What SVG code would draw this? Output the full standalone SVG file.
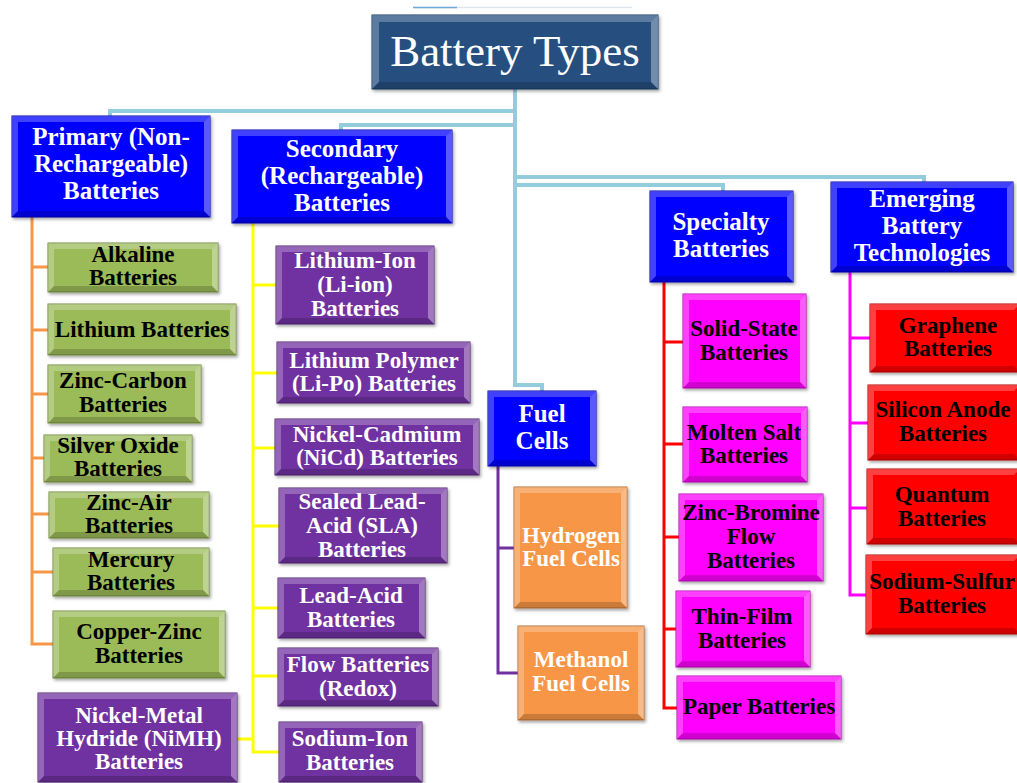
<svg xmlns="http://www.w3.org/2000/svg" width="1017" height="783" viewBox="0 0 1017 783">
<defs>
<filter id="sh" x="-10%" y="-10%" width="130%" height="130%"><feDropShadow dx="1.5" dy="2" stdDeviation="1.5" flood-color="#000" flood-opacity="0.35"/></filter>
<style>
.n rect{stroke-width:1;filter:url(#sh)}
.root rect{fill:#254F80;stroke:#1A3A60}
.blue rect{fill:#0000FF;stroke:#0000B0}
.green rect{fill:#9BBB59;stroke:#71893F}
.purple rect{fill:#7030A0;stroke:#4E2272}
.orange rect{fill:#F79646;stroke:#B66D31}
.mag rect{fill:#FF00FF;stroke:#B800B8}
.red rect{fill:#FF0000;stroke:#B80000}
.lt{fill:#FFFFFF;opacity:.25}
.rt{fill:#FFFFFF;opacity:.35}
.bm{fill:#000000;opacity:.18}
text{font-family:"Liberation Serif","Times New Roman",serif;font-weight:bold;font-size:23px;text-anchor:middle}
.hd text{font-size:25px}
.w text{fill:#FFFFFF}
.k text{fill:#000000}
.root text{font-weight:normal;font-size:45px}
.cb{fill:none;stroke:#93CDDD;stroke-width:4}
.c{fill:none;stroke-width:3}
</style>
</defs>
<rect width="1017" height="783" fill="#FFFFFF"/>
<line x1="413" y1="7.5" x2="632" y2="7.5" stroke="#DDE6EE" stroke-width="1.5"/>
<line x1="413" y1="7.5" x2="457" y2="7.5" stroke="#6FA8DC" stroke-width="1.5"/>

<g id="connectors">
<path class="cb" d="M515 89V385H542V391M515 111H110V116M515 125H341V130M515 177H924V182M515 185H723V191"/>
<path class="c" stroke="#F79646" d="M32 217V644H53M32 267H48M32 330H48M32 394H48M32 458H44M32 514H49M32 572H53"/>
<path class="c" stroke="#FFFF00" d="M253 223V752H279M253 285H276M253 373H277M253 448H275M253 526H279M253 608H278M253 676H278M253 739H237"/>
<path class="c" stroke="#7030A0" d="M498 466V673H518M498 548H514"/>
<path class="c" stroke="#FF0000" d="M664 282V708H677M664 342H683M664 444H683M664 537H679M664 629H676"/>
<path class="c" stroke="#FF00FF" d="M850 272V595H866M850 338H870M850 423H868M850 508H867"/>
</g>

<g id="n-root" class="n root w"><rect x="372" y="15" width="286" height="74"/><path class="lt" d="M372 15h286l-7 7h-272v60l-7 7z"/><path class="rt" d="M658 15v74l-7-7v-60z"/><path class="bm" d="M372 89h286l-7-7h-272z"/><text x="515" y="66">Battery Types</text></g>

<g id="n-primary" class="n blue w hd"><rect x="12" y="116" width="198" height="101"/><path class="lt" d="M12 116h198l-6 6h-186v89l-6 6z"/><path class="rt" d="M210 116v101l-6-6v-89z"/><path class="bm" d="M12 217h198l-6-6h-186z"/><text x="111"><tspan x="111" y="145">Primary (Non-</tspan><tspan x="111" y="172">Rechargeable)</tspan><tspan x="111" y="199">Batteries</tspan></text></g>
<g id="n-secondary" class="n blue w hd"><rect x="232" y="130" width="220" height="93"/><path class="lt" d="M232 130h220l-6 6h-208v81l-6 6z"/><path class="rt" d="M452 130v93l-6-6v-81z"/><path class="bm" d="M232 223h220l-6-6h-208z"/><text x="342"><tspan x="342" y="157">Secondary</tspan><tspan x="342" y="184">(Rechargeable)</tspan><tspan x="342" y="211">Batteries</tspan></text></g>
<g id="n-fuel" class="n blue w hd"><rect x="488" y="391" width="108" height="75"/><path class="lt" d="M488 391h108l-6 6h-96v63l-6 6z"/><path class="rt" d="M596 391v75l-6-6v-63z"/><path class="bm" d="M488 466h108l-6-6h-96z"/><text x="542"><tspan x="542" y="422">Fuel</tspan><tspan x="542" y="449">Cells</tspan></text></g>
<g id="n-specialty" class="n blue w hd"><rect x="650" y="191" width="143" height="91"/><path class="lt" d="M650 191h143l-6 6h-131v79l-6 6z"/><path class="rt" d="M793 191v91l-6-6v-79z"/><path class="bm" d="M650 282h143l-6-6h-131z"/><text x="721"><tspan x="721" y="230">Specialty</tspan><tspan x="721" y="257">Batteries</tspan></text></g>
<g id="n-emerging" class="n blue w hd"><rect x="831" y="182" width="182" height="90"/><path class="lt" d="M831 182h182l-6 6h-170v78l-6 6z"/><path class="rt" d="M1013 182v90l-6-6v-78z"/><path class="bm" d="M831 272h182l-6-6h-170z"/><text x="922"><tspan x="922" y="207">Emerging</tspan><tspan x="922" y="234">Battery</tspan><tspan x="922" y="261">Technologies</tspan></text></g>

<g id="n-alkaline" class="n green k"><rect x="48" y="243" width="170" height="49"/><path class="lt" d="M48 243h170l-6 6h-158v37l-6 6z"/><path class="rt" d="M218 243v49l-6-6v-37z"/><path class="bm" d="M48 292h170l-6-6h-158z"/><text x="133"><tspan x="133" y="262">Alkaline</tspan><tspan x="133" y="285">Batteries</tspan></text></g>
<g id="n-lithium" class="n green k"><rect x="48" y="304" width="188" height="51"/><path class="lt" d="M48 304h188l-6 6h-176v39l-6 6z"/><path class="rt" d="M236 304v51l-6-6v-39z"/><path class="bm" d="M48 355h188l-6-6h-176z"/><text x="142" y="337">Lithium Batteries</text></g>
<g id="n-zinccarbon" class="n green k"><rect x="48" y="365" width="153" height="58"/><path class="lt" d="M48 365h153l-6 6h-141v46l-6 6z"/><path class="rt" d="M201 365v58l-6-6v-46z"/><path class="bm" d="M48 423h153l-6-6h-141z"/><text x="123"><tspan x="123" y="388">Zinc-Carbon</tspan><tspan x="123" y="412">Batteries</tspan></text></g>
<g id="n-silveroxide" class="n green k"><rect x="44" y="435" width="148" height="47"/><path class="lt" d="M44 435h148l-6 6h-136v35l-6 6z"/><path class="rt" d="M192 435v47l-6-6v-35z"/><path class="bm" d="M44 482h148l-6-6h-136z"/><text x="118"><tspan x="118" y="453">Silver Oxide</tspan><tspan x="118" y="476">Batteries</tspan></text></g>
<g id="n-zincair" class="n green k"><rect x="49" y="492" width="160" height="46"/><path class="lt" d="M49 492h160l-6 6h-148v34l-6 6z"/><path class="rt" d="M209 492v46l-6-6v-34z"/><path class="bm" d="M49 538h160l-6-6h-148z"/><text x="129"><tspan x="129" y="510">Zinc-Air</tspan><tspan x="129" y="533">Batteries</tspan></text></g>
<g id="n-mercury" class="n green k"><rect x="53" y="548" width="156" height="48"/><path class="lt" d="M53 548h156l-6 6h-144v36l-6 6z"/><path class="rt" d="M209 548v48l-6-6v-36z"/><path class="bm" d="M53 596h156l-6-6h-144z"/><text x="131"><tspan x="131" y="567">Mercury</tspan><tspan x="131" y="590">Batteries</tspan></text></g>
<g id="n-copperzinc" class="n green k"><rect x="53" y="611" width="172" height="67"/><path class="lt" d="M53 611h172l-6 6h-160v55l-6 6z"/><path class="rt" d="M225 611v67l-6-6v-55z"/><path class="bm" d="M53 678h172l-6-6h-160z"/><text x="139"><tspan x="139" y="639">Copper-Zinc</tspan><tspan x="139" y="663">Batteries</tspan></text></g>

<g id="n-liion" class="n purple w"><rect x="276" y="246" width="158" height="78"/><path class="lt" d="M276 246h158l-6 6h-146v66l-6 6z"/><path class="rt" d="M434 246v78l-6-6v-66z"/><path class="bm" d="M276 324h158l-6-6h-146z"/><text x="355"><tspan x="355" y="268">Lithium-Ion</tspan><tspan x="355" y="292">(Li-ion)</tspan><tspan x="355" y="316">Batteries</tspan></text></g>
<g id="n-lipo" class="n purple w"><rect x="277" y="342" width="193" height="61"/><path class="lt" d="M277 342h193l-6 6h-181v49l-6 6z"/><path class="rt" d="M470 342v61l-6-6v-49z"/><path class="bm" d="M277 403h193l-6-6h-181z"/><text x="374"><tspan x="374" y="368">Lithium Polymer</tspan><tspan x="374" y="391">(Li-Po) Batteries</tspan></text></g>
<g id="n-nicd" class="n purple w"><rect x="275" y="419" width="204" height="56"/><path class="lt" d="M275 419h204l-6 6h-192v44l-6 6z"/><path class="rt" d="M479 419v56l-6-6v-44z"/><path class="bm" d="M275 475h204l-6-6h-192z"/><text x="377"><tspan x="377" y="442">Nickel-Cadmium</tspan><tspan x="377" y="465">(NiCd) Batteries</tspan></text></g>
<g id="n-sla" class="n purple w"><rect x="279" y="488" width="168" height="75"/><path class="lt" d="M279 488h168l-6 6h-156v63l-6 6z"/><path class="rt" d="M447 488v75l-6-6v-63z"/><path class="bm" d="M279 563h168l-6-6h-156z"/><text x="362"><tspan x="362" y="509">Sealed Lead-</tspan><tspan x="362" y="533">Acid (SLA)</tspan><tspan x="362" y="557">Batteries</tspan></text></g>
<g id="n-leadacid" class="n purple w"><rect x="278" y="578" width="147" height="60"/><path class="lt" d="M278 578h147l-6 6h-135v48l-6 6z"/><path class="rt" d="M425 578v60l-6-6v-48z"/><path class="bm" d="M278 638h147l-6-6h-135z"/><text x="351"><tspan x="351" y="603">Lead-Acid</tspan><tspan x="351" y="627">Batteries</tspan></text></g>
<g id="n-flow" class="n purple w"><rect x="278" y="648" width="160" height="58"/><path class="lt" d="M278 648h160l-6 6h-148v46l-6 6z"/><path class="rt" d="M438 648v58l-6-6v-46z"/><path class="bm" d="M278 706h160l-6-6h-148z"/><text x="358"><tspan x="358" y="672">Flow Batteries</tspan><tspan x="358" y="696">(Redox)</tspan></text></g>
<g id="n-sodiumion" class="n purple w"><rect x="279" y="722" width="143" height="60"/><path class="lt" d="M279 722h143l-6 6h-131v48l-6 6z"/><path class="rt" d="M422 722v60l-6-6v-48z"/><path class="bm" d="M279 782h143l-6-6h-131z"/><text x="350"><tspan x="350" y="746">Sodium-Ion</tspan><tspan x="350" y="770">Batteries</tspan></text></g>
<g id="n-nimh" class="n purple w"><rect x="38" y="693" width="199" height="89"/><path class="lt" d="M38 693h199l-6 6h-187v77l-6 6z"/><path class="rt" d="M237 693v89l-6-6v-77z"/><path class="bm" d="M38 782h199l-6-6h-187z"/><text x="139"><tspan x="139" y="723">Nickel-Metal</tspan><tspan x="139" y="746">Hydride (NiMH)</tspan><tspan x="139" y="769">Batteries</tspan></text></g>

<g id="n-hydrogen" class="n orange w"><rect x="514" y="487" width="113" height="121"/><path class="lt" d="M514 487h113l-6 6h-101v109l-6 6z"/><path class="rt" d="M627 487v121l-6-6v-109z"/><path class="bm" d="M514 608h113l-6-6h-101z"/><text x="571"><tspan x="571" y="543">Hydrogen</tspan><tspan x="571" y="566">Fuel Cells</tspan></text></g>
<g id="n-methanol" class="n orange w"><rect x="518" y="626" width="126" height="94"/><path class="lt" d="M518 626h126l-6 6h-114v82l-6 6z"/><path class="rt" d="M644 626v94l-6-6v-82z"/><path class="bm" d="M518 720h126l-6-6h-114z"/><text x="581"><tspan x="581" y="667">Methanol</tspan><tspan x="581" y="691">Fuel Cells</tspan></text></g>

<g id="n-solidstate" class="n mag k"><rect x="683" y="294" width="123" height="94"/><path class="lt" d="M683 294h123l-6 6h-111v82l-6 6z"/><path class="rt" d="M806 294v94l-6-6v-82z"/><path class="bm" d="M683 388h123l-6-6h-111z"/><text x="744"><tspan x="744" y="336">Solid-State</tspan><tspan x="744" y="360">Batteries</tspan></text></g>
<g id="n-moltensalt" class="n mag k"><rect x="683" y="407" width="124" height="75"/><path class="lt" d="M683 407h124l-6 6h-112v63l-6 6z"/><path class="rt" d="M807 407v75l-6-6v-63z"/><path class="bm" d="M683 482h124l-6-6h-112z"/><text x="744"><tspan x="744" y="440">Molten Salt</tspan><tspan x="744" y="463">Batteries</tspan></text></g>
<g id="n-zincbromine" class="n mag k"><rect x="679" y="494" width="144" height="87"/><path class="lt" d="M679 494h144l-6 6h-132v75l-6 6z"/><path class="rt" d="M823 494v87l-6-6v-75z"/><path class="bm" d="M679 581h144l-6-6h-132z"/><text x="751"><tspan x="751" y="520">Zinc-Bromine</tspan><tspan x="751" y="544">Flow</tspan><tspan x="751" y="568">Batteries</tspan></text></g>
<g id="n-thinfilm" class="n mag k"><rect x="676" y="591" width="134" height="76"/><path class="lt" d="M676 591h134l-6 6h-122v64l-6 6z"/><path class="rt" d="M810 591v76l-6-6v-64z"/><path class="bm" d="M676 667h134l-6-6h-122z"/><text x="742"><tspan x="742" y="624">Thin-Film</tspan><tspan x="742" y="648">Batteries</tspan></text></g>
<g id="n-paper" class="n mag k"><rect x="677" y="676" width="164" height="63"/><path class="lt" d="M677 676h164l-6 6h-152v51l-6 6z"/><path class="rt" d="M841 676v63l-6-6v-51z"/><path class="bm" d="M677 739h164l-6-6h-152z"/><text x="759" y="714">Paper Batteries</text></g>

<g id="n-graphene" class="n red k"><rect x="870" y="304" width="150" height="68"/><path class="lt" d="M870 304h150l-6 6h-138v56l-6 6z"/><path class="bm" d="M870 372h150l-6-6h-138z"/><text x="948"><tspan x="948" y="333">Graphene</tspan><tspan x="948" y="356">Batteries</tspan></text></g>
<g id="n-siliconanode" class="n red k"><rect x="868" y="385" width="152" height="75"/><path class="lt" d="M868 385h152l-6 6h-140v63l-6 6z"/><path class="bm" d="M868 460h152l-6-6h-140z"/><text x="943"><tspan x="943" y="417">Silicon Anode</tspan><tspan x="943" y="441">Batteries</tspan></text></g>
<g id="n-quantum" class="n red k"><rect x="867" y="469" width="153" height="75"/><path class="lt" d="M867 469h153l-6 6h-141v63l-6 6z"/><path class="bm" d="M867 544h153l-6-6h-141z"/><text x="942"><tspan x="942" y="502">Quantum</tspan><tspan x="942" y="526">Batteries</tspan></text></g>
<g id="n-sodiumsulfur" class="n red k"><rect x="866" y="555" width="154" height="79"/><path class="lt" d="M866 555h154l-6 6h-142v67l-6 6z"/><path class="bm" d="M866 634h154l-6-6h-142z"/><text x="942"><tspan x="942" y="589">Sodium-Sulfur</tspan><tspan x="942" y="613">Batteries</tspan></text></g>
</svg>
